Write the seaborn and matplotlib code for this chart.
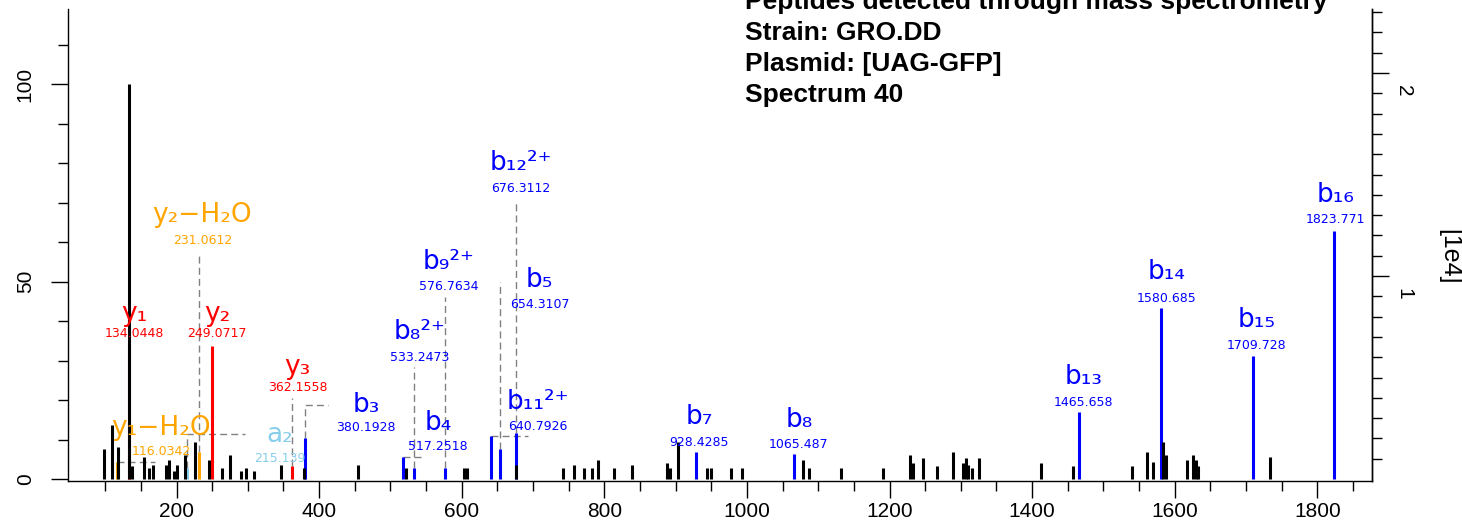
import numpy as np
import pandas as pd
import matplotlib
matplotlib.use("Agg")
import matplotlib.pyplot as plt
import seaborn as sns
from matplotlib.transforms import ScaledTranslation
from matplotlib.ticker import FixedLocator

# ---------------- data ----------------
# unannotated (black) peaks: m/z and relative intensity (%)
noise_mz = [98.7, 109.9, 117.5, 133.3, 137.1, 154.8, 161.4, 167.4, 185.2, 189.4,
            196.4, 200.7, 211.9, 226.3, 245.1, 264.2, 275.4, 290.0, 297.8, 309.1,
            346.5, 379.2, 455.0, 522.3, 603.6, 608.1, 675.7, 742.0, 757.5, 771.9,
            783.1, 790.7, 813.8, 839.5, 887.5, 892.8, 903.6, 944.7, 949.2, 977.7,
            993.5, 1079.1, 1087.1, 1131.5, 1191.3, 1228.7, 1233.3, 1247.4, 1266.2,
            1288.6, 1303.5, 1307.3, 1310.5, 1315.2, 1325.9, 1412.5, 1456.9, 1539.7,
            1561.5, 1569.1, 1583.1, 1587.8, 1617.6, 1625.2, 1629.4, 1633.1, 1733.6]
noise_int = [7.5, 13.7, 8.2, 100.0, 3.4, 5.5, 2.7, 3.5, 3.5, 4.8,
             2.1, 3.5, 6.1, 9.4, 4.8, 2.7, 6.2, 2.1, 2.7, 2.1,
             3.5, 2.7, 3.5, 2.7, 2.7, 2.7, 3.5, 2.7, 3.5, 2.7,
             2.7, 4.8, 2.7, 3.5, 4.1, 2.7, 9.4, 2.7, 2.7, 2.7,
             2.7, 4.8, 2.7, 2.7, 2.7, 6.1, 4.1, 5.4, 3.4,
             6.9, 4.1, 5.4, 3.5, 2.7, 5.4, 4.1, 3.4, 3.4,
             6.8, 4.2, 9.4, 6.1, 4.8, 6.1, 4.8, 3.4, 5.5]

# annotated fragment ions
ion_names = ["y₁", "y₂", "y₃", "y₁−H₂O", "y₂−H₂O", "a₂", "b₃", "b₄", "b₈²⁺", "b₉²⁺",
             "b₁₁²⁺", "b₅", "b₁₂²⁺", "b₇", "b₈", "b₁₃", "b₁₄", "b₁₅", "b₁₆"]
ion_kind = ["y", "y", "y", "loss", "loss", "a", "b", "b", "b", "b",
            "b", "b", "b", "b", "b", "b", "b", "b", "b"]
ion_mz = [134.0448, 249.0717, 362.1558, 116.0342, 231.0612, 215.139, 380.1928, 517.2518,
          533.2473, 576.7634, 640.7926, 654.3107, 676.3112, 928.4285, 1065.487,
          1465.658, 1580.685, 1709.728, 1823.771]
ion_int = [34.0, 33.7, 3.3, 4.3, 6.9, 2.8, 10.4, 5.6, 2.8, 2.8,
           10.9, 7.6, 11.6, 6.9, 6.3, 17.0, 43.3, 31.1, 62.9]
mass_text = ["134.0448", "249.0717", "362.1558", "116.0342", "231.0612", "215.139",
             "380.1928", "517.2518", "533.2473", "576.7634", "640.7926", "654.3107",
             "676.3112", "928.4285", "1065.487", "1465.658", "1580.685", "1709.728",
             "1823.771"]

# label placement (data coordinates) and leader lines
label_mz = [140.8, 256.8, 369.6, 178.2, 236.4, 345.1, 465.5, 566.7, 540.8, 582.1,
            707.0, 709.1, 683.1, 932.8, 1073.0, 1472.0, 1588.0, 1715.3, 1824.9]
label_ion_y = [41.9, 41.9, 28.4, 12.8, 66.8, 11.1, 18.7, 14.2, 37.3, 55.0,
               19.6, 50.4, 80.0, 15.8, 14.9, 25.8, 52.5, 40.3, 71.9]
label_mass_y = [36.9, 36.9, 23.1, 6.9, 60.5, 5.2, 13.0, 8.2, 30.7, 48.7,
                13.4, 44.3, 73.6, 9.2, 8.8, 19.3, 45.7, 33.7, 65.6]
leader_top = [None, None, 20.4, 4.3, 57.5, 11.4, 18.7, 5.6, 28.4, 46.2,
              10.9, 50.0, 70.1, None, None, None, None, None, None]
leader_end = [None, None, 362.1558, 169.8, 231.0612, 296.0, 412.4, 548.5, 533.2473,
              576.7634, 692.9, 654.3107, 676.3112, None, None, None, None, None, None]

x_major = [200, 400, 600, 800, 1000, 1200, 1400, 1600, 1800]
title_lines = ["Peptides detected through mass spectrometry", "Strain: GRO.DD",
               "Plasmid: [UAG-GFP]", "Spectrum 40"]
BASE_PEAK = 1.946  # 100 % in units of 1e4

kind_colors = {"b": "#0000FF", "y": "#FF0000", "loss": "#FFA500", "a": "#87CEEB"}

# ---------------- plot ----------------
sns.set_theme(style="ticks")
plt.rcParams["font.family"] = ["Liberation Sans", "DejaVu Sans"]
plt.rcParams["text.color"] = "black"
plt.rcParams["axes.labelcolor"] = "black"
plt.rcParams["xtick.color"] = "black"
plt.rcParams["ytick.color"] = "black"
plt.rcParams["axes.edgecolor"] = "black"

ions = pd.DataFrame({"name": ion_names, "kind": ion_kind, "mz": ion_mz,
                     "intensity": ion_int, "mass": mass_text})
noise = pd.DataFrame({"mz": noise_mz, "intensity": noise_int})

fig = plt.figure(figsize=(14.62, 5.23), dpi=100)
W, H = 1462, 523
ax = fig.add_axes([68 / W, (H - 481) / H, (1372 - 68) / W, (481 - 9) / H])
ax.set_xlim(47.8, 1876.7)
ax.set_ylim(-0.5, 119)

# coloured annotated peaks first, black spectrum on top
ax.vlines(ions["mz"], 0, ions["intensity"],
          colors=[kind_colors[k] for k in ions["kind"]], linewidth=2.2, zorder=2)
ax.vlines(noise["mz"], 0, noise["intensity"], colors="black", linewidth=2.2, zorder=3)

# leader lines
for i in range(len(ions)):
    if leader_top[i] is None:
        continue
    px, py = ion_mz[i], ion_int[i]
    xs = [px, px, leader_end[i]]
    ys = [py, leader_top[i], leader_top[i]]
    ax.plot(xs, ys, color="#808080", linewidth=1.0, dashes=(5, 3), zorder=1)

# labels
for i in range(len(ions)):
    c = kind_colors[ion_kind[i]]
    ax.text(label_mz[i], label_ion_y[i], ion_names[i], color=c, fontsize=19,
            family="DejaVu Sans", ha="center", va="center", zorder=4)
    ax.text(label_mz[i], label_mass_y[i], mass_text[i], color=c, fontsize=9,
            family="DejaVu Sans", ha="center", va="center", zorder=4)

# axes styling
sns.despine(ax=ax, top=True, right=False)
for s in ["left", "bottom", "right"]:
    ax.spines[s].set_linewidth(1.0)
    ax.spines[s].set_color("black")

ax.xaxis.set_major_locator(FixedLocator(x_major))
ax.xaxis.set_minor_locator(FixedLocator([v for v in range(100, 1851, 50) if v % 200]))
ax.set_xticklabels([str(v) for v in x_major])
ax.tick_params(axis="x", which="major", length=12, width=1, labelsize=15, pad=3,
               colors="black")
ax.tick_params(axis="x", which="minor", length=7, width=1, colors="black")

ax.yaxis.set_major_locator(FixedLocator([0, 50, 100]))
ax.yaxis.set_minor_locator(FixedLocator([10, 20, 30, 40, 60, 70, 80, 90, 110]))
ax.set_yticklabels(["0", "50", "100"])
ax.tick_params(axis="y", which="major", length=12, width=1, labelsize=15, pad=12,
               labelrotation=90, colors="black")
ax.tick_params(axis="y", which="minor", length=7, width=1, colors="black")
for lab in ax.get_yticklabels():
    lab.set_verticalalignment("center")

ax2 = ax.twinx()
ax2.set_ylim(-0.5 / 51.39, 119 / 51.39)
ax2.yaxis.set_major_locator(FixedLocator([1, 2]))
ax2.yaxis.set_minor_locator(FixedLocator([v / 10 for v in range(0, 24) if v % 10]))
ax2.set_yticklabels(["1", "2"])
ax2.tick_params(axis="y", which="major", length=12, width=1, labelsize=15, pad=4,
                labelrotation=-90, colors="black")
ax2.tick_params(axis="y", which="minor", length=7, width=1, colors="black")
ax2.spines["top"].set_visible(False)
ax2.spines["left"].set_visible(False)
ax2.spines["bottom"].set_visible(False)
ax2.spines["right"].set_color("black")
ax2.spines["right"].set_linewidth(1.0)
off = ScaledTranslation(0, -18 / 100, fig.dpi_scale_trans)
for lab in ax2.get_yticklabels():
    lab.set_transform(lab.get_transform() + off)
    lab.set_verticalalignment("center")

fig.text(1449 / W, 1 - 257 / H, "[1e4]", rotation=-90, ha="center", va="center",
         fontsize=18, color="black")

for k, line in enumerate(title_lines):
    fig.text(745 / W, 1 - (9 + 31 * k) / H, line, fontsize=19, fontweight="bold",
             ha="left", va="baseline", color="black")

fig.savefig("out.png", dpi=100)
